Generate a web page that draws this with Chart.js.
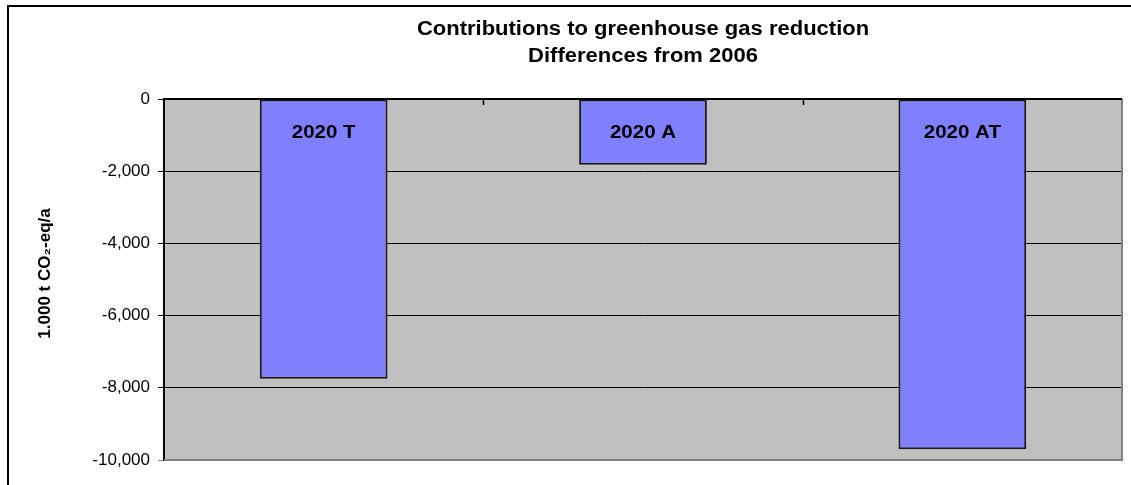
<!DOCTYPE html>
<html>
<head>
<meta charset="utf-8">
<script src="https://cdn.jsdelivr.net/npm/chart.js@4"></script>
<style>
  html, body { margin: 0; padding: 0; background: #fff; }
  #wrap { width: 1131px; height: 485px; }
</style>
</head>
<body>
<div id="wrap"><canvas id="myChart" width="1131" height="485"></canvas></div>
<script>
var categories = ['2020 T', '2020 A', '2020 AT'];
var reduction = [-7750, -1820, -9700];
var titleLines = ['Contributions to greenhouse gas reduction', 'Differences from 2006'];
var yTitle = '1.000 t CO\u2082-eq/a';

var fontFamily = '"Liberation Sans", Arial, sans-serif';

// text that is a bit wider than tall, like the original export
function wideText(c, txt, x, y, sx) {
    c.save();
    c.translate(x, y);
    c.scale(sx, 1);
    c.fillText(txt, 0, 0);
    c.restore();
}

// frame, grey plot background, right/bottom border, category ticks, titles
var backdrop = {
    id: 'backdrop',
    beforeDraw: function (chart) {
        var c = chart.ctx, a = chart.chartArea;
        c.save();
        c.fillStyle = '#c0c0c0';
        c.fillRect(a.left, a.top, a.right - a.left, a.bottom - a.top);
        c.strokeStyle = '#000';
        c.lineWidth = 2;
        c.beginPath();
        c.moveTo(8, 486); c.lineTo(8, 6); c.lineTo(1132, 6);
        c.stroke();
        c.restore();
    },
    afterDraw: function (chart) {
        var c = chart.ctx, a = chart.chartArea, x = chart.scales.x;
        c.save();
        c.strokeStyle = '#808080';
        c.lineWidth = 2;
        c.beginPath();
        c.moveTo(a.right, a.top); c.lineTo(a.right, a.bottom); c.lineTo(a.left, a.bottom);
        c.stroke();
        c.strokeStyle = '#000';
        c.beginPath();
        c.moveTo(a.left, a.top); c.lineTo(a.right, a.top);
        c.stroke();
        c.lineWidth = 1.5;
        for (var i = 1; i < categories.length; i++) {
            var bx = Math.round((x.getPixelForValue(i - 1) + x.getPixelForValue(i)) / 2) + 0.5;
            c.beginPath();
            c.moveTo(bx, a.top); c.lineTo(bx, a.top + 6);
            c.stroke();
        }
        c.fillStyle = '#000';
        c.font = 'bold 20px ' + fontFamily;
        c.textAlign = 'center';
        c.textBaseline = 'middle';
        var cx = (a.left + a.right) / 2;
        wideText(c, titleLines[0], cx, 29, 1.1);
        wideText(c, titleLines[1], cx, 56, 1.1);
        // y title
        c.translate(45, (a.top + a.bottom) / 2 - 6);
        c.rotate(-Math.PI / 2);
        c.font = 'bold 17px ' + fontFamily;
        c.fillText(yTitle, 0, 0);
        c.restore();
    }
};

// category names inside the bars
var barLabels = {
    id: 'barLabels',
    afterDatasetsDraw: function (chart) {
        var c = chart.ctx, a = chart.chartArea;
        var meta = chart.getDatasetMeta(0);
        c.save();
        c.fillStyle = '#000';
        c.font = 'bold 19px ' + fontFamily;
        c.textAlign = 'center';
        c.textBaseline = 'middle';
        meta.data.forEach(function (bar, i) {
            wideText(c, categories[i], bar.x, a.top + 34, 1.08);
        });
        c.restore();
    }
};

var ctx = document.getElementById('myChart');
var myChart = new Chart(ctx, {
    type: 'bar',
    data: {
        labels: categories,
        datasets: [{
            data: reduction,
            backgroundColor: '#8080ff',
            borderColor: '#1a1a1a',
            borderWidth: 2,
            borderSkipped: false,
            categoryPercentage: 1,
            barPercentage: 0.4
        }]
    },
    plugins: [backdrop, barLabels],
    options: {
        responsive: false,
        animation: false,
        layout: { padding: { top: 99, right: 9, bottom: 25, left: 0 } },
        plugins: { legend: { display: false }, tooltip: { enabled: false }, title: { display: false } },
        scales: {
            x: { display: false },
            y: {
                min: -10000,
                max: 0,
                afterFit: function (s) { s.width = 164; },
                ticks: {
                    stepSize: 2000,
                    padding: 8,
                    color: '#000',
                    font: { family: fontFamily, size: 17 },
                    callback: function (v) { return v.toLocaleString('en-US'); }
                },
                grid: {
                    color: function (c) { return c.tick && c.tick.value === -10000 ? '#808080' : '#000'; },
                    lineWidth: 1,
                    tickLength: 6
                },
                border: { color: '#000', width: 2 }
            }
        }
    }
});
</script>
</body>
</html>
